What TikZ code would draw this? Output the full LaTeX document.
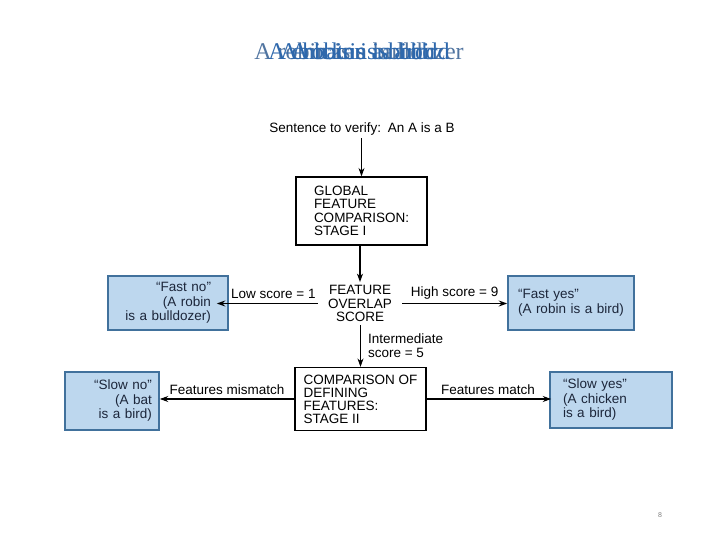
\documentclass[tikz,border=0pt]{standalone}
\usepackage{fontspec}
\setmainfont{Liberation Sans}
\newfontfamily\titlefont{Liberation Serif}
\usepackage{tikz}
\usetikzlibrary{arrows.meta, positioning, calc}
\usepackage{xcolor}
\definecolor{answerfill}{RGB}{189,215,238}
\definecolor{answerdraw}{RGB}{65,113,156}
\definecolor{answertext}{RGB}{28,38,58}
\definecolor{titlegray}{RGB}{80,116,160}
\definecolor{titleblue}{RGB}{46,104,172}

\begin{document}
\begin{tikzpicture}[x=1pt, y=-1pt,
		every node/.style={font=\fontsize{13.5}{13.5}\selectfont, inner sep=0pt},
		flow/.style={-{Stealth[length=8.5pt, width=6pt]}, line width=1.1pt},
		stagebox/.style={draw, line width=1.2pt, align=left, minimum width=131pt},
		answerbox/.style={draw=answerdraw, fill=answerfill, line width=1.6pt, text=answertext,
			font=\fontsize{13.5}{14.5}\selectfont},
		titletext/.style={font=\titlefont\fontsize{24}{24}\selectfont}]
	\useasboundingbox (0,0) rectangle (720,540);
	
	% --- Title (stacked slide texts) ---
	\node[titletext, text=titlegray] (titlebulldozer) at (359,51) {A robin is a bulldozer};
	\node[titletext, text=titleblue] (titlebird) at (359,51) {A robin is a bird};
	\node[titletext, text=titleblue] (titlebat) at (359,51) {A bat is a bird};
	\node[titletext, text=titleblue] (titlechicken) at (359,51) {A chicken is a bird};
	
	% --- Main flow ---
	\node (sentence) at (362,129) {Sentence to verify:\enspace An A is a B};
	\node[stagebox, minimum height=68pt] (global) at (361.5,211) {GLOBAL\\FEATURE\\COMPARISON:\\STAGE I};
	\node[align=center, inner xsep=10pt, inner ysep=3pt] (overlap) at (360,303.5) {FEATURE\\OVERLAP\\SCORE};
	\node[stagebox, minimum height=63pt, font=\fontsize{13.5}{13}\selectfont] (comparison) at (360.5,399) {COMPARISON OF\\DEFINING\\FEATURES:\\STAGE II};
	
	% --- Answer boxes ---
	\node[answerbox, align=right, inner xsep=17pt, text width=86pt, minimum height=54pt] (fastno) at (168,303) {“Fast no”\\(A robin\\is a bulldozer)};
	\node[answerbox, align=left, inner xsep=10pt, text width=106pt, minimum height=54pt] (fastyes) at (571,303) {“Fast yes”\\(A robin is a bird)};
	\node[answerbox, align=right, inner xsep=7pt, text width=80pt, minimum height=58pt] (slowno) at (112,401) {“Slow no”\\(A bat\\is a bird)};
	\node[answerbox, align=left, inner xsep=13pt, text width=96pt, minimum height=56pt] (slowyes) at (611,400) {“Slow yes”\\(A chicken\\is a bird)};
	
	% --- Connectors ---
	\draw[flow, shorten <=3pt] (sentence.south -| global.north) -- (global.north);
	\draw[flow] (global.south -| overlap.north) -- (overlap.north);
	\draw[flow, shorten >=-12pt] (overlap.west) -- (overlap.west -| fastno.east)
		node[midway, above=4pt] (lowlabel) {Low score = 1};
	\draw[flow] (overlap.east) -- (overlap.east -| fastyes.west)
		node[midway, above=4pt] (highlabel) {High score = 9};
	\draw[flow] (overlap.south -| comparison.north) -- (comparison.north)
		node[midway, right=7pt, align=left] (midlabel) {Intermediate\\score = 5};
	\draw[flow] (comparison.west) -- (comparison.west -| slowno.east)
		node[midway, above=4pt] (mismatchlabel) {Features mismatch};
	\draw[flow, shorten >=-2pt] (comparison.east) -- (comparison.east -| slowyes.west)
		node[midway, above=4pt] (matchlabel) {Features match};
	
	% --- Page number ---
	\node[font=\fontsize{7}{7}\selectfont, text=gray] (pagenum) at (660,515) {8};
\end{tikzpicture}
\end{document}
